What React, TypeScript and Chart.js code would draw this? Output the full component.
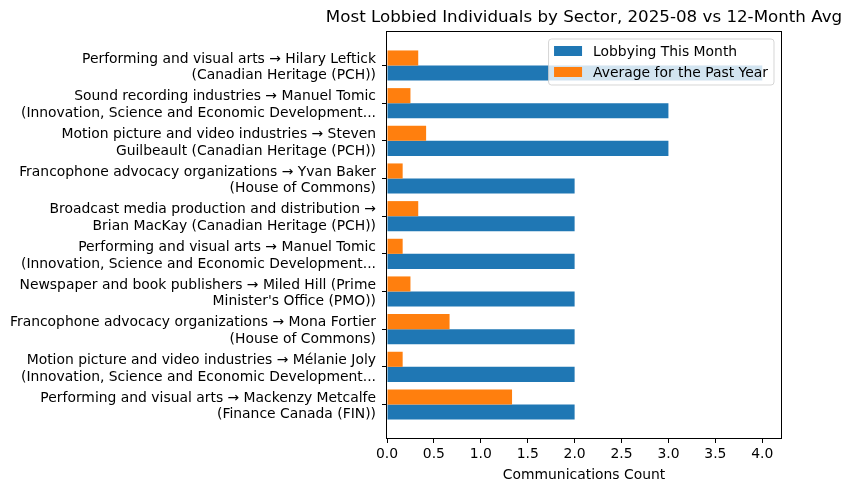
import { Chart, registerables } from "chart.js"
import { useEffect, useRef } from "react"

const labels: string[][] = [
  ["Performing and visual arts → Hilary Leftick", "(Canadian Heritage (PCH))"],
  ["Sound recording industries → Manuel Tomic", "(Innovation, Science and Economic Development..."],
  ["Motion picture and video industries → Steven", "Guilbeault (Canadian Heritage (PCH))"],
  ["Francophone advocacy organizations → Yvan Baker", "(House of Commons)"],
  ["Broadcast media production and distribution →", "Brian MacKay (Canadian Heritage (PCH))"],
  ["Performing and visual arts → Manuel Tomic", "(Innovation, Science and Economic Development..."],
  ["Newspaper and book publishers → Miled Hill (Prime", "Minister's Office (PMO))"],
  ["Francophone advocacy organizations → Mona Fortier", "(House of Commons)"],
  ["Motion picture and video industries → Mélanie Joly", "(Innovation, Science and Economic Development..."],
  ["Performing and visual arts → Mackenzy Metcalfe", "(Finance Canada (FIN))"],
]
const thisMonth = [4, 3, 3, 2, 2, 2, 2, 2, 2, 2]
const pastYearAvg = [0.333, 0.25, 0.417, 0.167, 0.333, 0.167, 0.25, 0.667, 0.167, 1.333]
const xTicks = [0, 0.5, 1, 1.5, 2, 2.5, 3, 3.5, 4]

const title = "Most Lobbied Individuals by Sector, 2025-08 vs 12-Month Avg"
const xTitle = "Communications Count"
const legendItems = [
  { text: "Lobbying This Month", color: "#1f77b4" },
  { text: "Average for the Past Year", color: "#ff7f0e" },
]

const FONT = "DejaVu Sans"
const FS = 13.9

// axes frame, title and matplotlib-style legend inside the plot
const decorations = {
  id: "decorations",
  afterDraw(chart: Chart) {
    const { ctx, chartArea } = chart
    const { left, right, top, bottom } = chartArea
    ctx.save()
    ctx.strokeStyle = "#000"
    ctx.lineWidth = 1
    ctx.strokeRect(left - 0.5, top - 0.5, right - left + 1, bottom - top + 1)

    ctx.fillStyle = "#000"
    ctx.font = `16.7px "${FONT}"`
    ctx.textAlign = "center"
    ctx.textBaseline = "middle"
    ctx.fillText(title, (left + right) / 2, 18)

    ctx.font = `${FS}px "${FONT}"`
    const textW = Math.max(...legendItems.map((it) => ctx.measureText(it.text).width))
    const w = 5.5 + 28 + 11 + textW + 6
    const h = 46
    const bx = right - 7 - w
    const by = top + 7
    ctx.beginPath()
    ctx.roundRect(bx, by, w, h, 3)
    ctx.fillStyle = "rgba(255,255,255,0.8)"
    ctx.fill()
    ctx.strokeStyle = "rgba(204,204,204,0.8)"
    ctx.stroke()
    ctx.textAlign = "left"
    legendItems.forEach((it, i) => {
      const cy = by + 12 + i * 21
      ctx.fillStyle = it.color
      ctx.fillRect(bx + 5.5, cy - 5, 28, 10)
      ctx.fillStyle = "#000"
      ctx.fillText(it.text, bx + 5.5 + 28 + 11, cy + 1)
    })
    ctx.restore()
  },
}

const App = () => {
  const chartRef = useRef<HTMLCanvasElement>(null)

  useEffect(() => {
    document.body.style.margin = "0"
    Chart.register(...registerables)
    if (!chartRef.current) return
    const ctx = chartRef.current.getContext("2d")
    if (!ctx) return

    Chart.defaults.font.family = FONT
    Chart.defaults.font.size = FS
    Chart.defaults.color = "#000"

    const c = new Chart(ctx, {
      type: "bar",
      data: {
        datasets: [
          {
            label: "Average for the Past Year",
            data: pastYearAvg.map((v, i) => ({ x: v, y: i })),
            backgroundColor: "#ff7f0e",
          },
          {
            label: "Lobbying This Month",
            data: thisMonth.map((v, i) => ({ x: v, y: i })),
            backgroundColor: "#1f77b4",
          },
        ],
      },
      options: {
        indexAxis: "y",
        animation: false,
        responsive: false,
        events: [],
        layout: { padding: { top: 32, right: 69, left: 0, bottom: 0 } },
        datasets: { bar: { barPercentage: 1, categoryPercentage: 0.8 } },
        plugins: { legend: { display: false }, title: { display: false }, tooltip: { enabled: false } },
        scales: {
          x: {
            type: "linear",
            min: 0,
            max: 4.2,
            afterBuildTicks: (s: any) => { s.ticks = xTicks.map((v) => ({ value: v })) },
            afterFit: (s: any) => { s.height = 53 },
            grid: { drawOnChartArea: false, drawTicks: true, tickLength: 5, tickColor: "#000" },
            border: { display: false },
            ticks: { padding: 3, autoSkip: false, maxRotation: 0, callback: (v: any) => Number(v).toFixed(1) },
            title: { display: true, text: xTitle, padding: { top: 0, bottom: 7 } },
          },
          y: {
            type: "linear",
            min: -0.89,
            max: labels.length - 1 + 0.89,
            reverse: true,
            offset: false,
            afterBuildTicks: (s: any) => { s.ticks = labels.map((_, i) => ({ value: i })) },
            afterFit: (s: any) => { s.width = 387 },
            grid: { offset: false, drawOnChartArea: false, drawTicks: true, tickLength: 5, tickColor: "#000" },
            border: { display: false },
            ticks: {
              padding: 6,
              labelOffset: 2,
              autoSkip: false,
              font: { lineHeight: 1.2 },
              callback: (v: any) => labels[Math.round(Number(v))],
            },
          },
        },
      },
      plugins: [decorations],
    })
    return () => {
      c.destroy()
    }
  }, [])

  return <canvas ref={chartRef} width={850} height={491} style={{ display: "block" }}></canvas>
}

export default App
